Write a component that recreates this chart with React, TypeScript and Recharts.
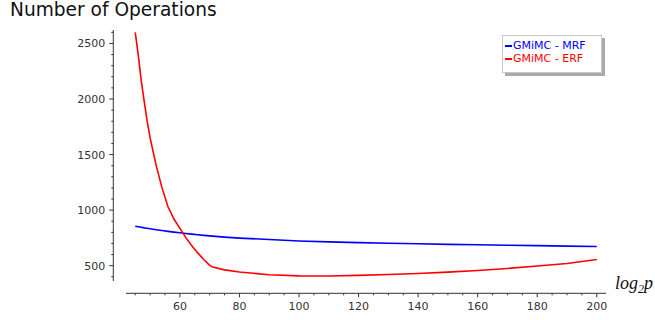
import { Legend, Line, LineChart, XAxis, YAxis } from "recharts";

const xs = [45, 46, 47, 48, 49, 50, 52, 54, 56, 58, 60, 62, 64, 66, 68, 70, 71, 75, 80, 90, 100, 110, 120, 130, 140, 150, 160, 170, 180, 190, 200];
const mrf = [855, 850, 845, 840, 836, 832, 824, 816, 809, 802, 796, 790, 784, 778, 773, 768, 766, 757, 748, 735, 722, 714, 707, 702, 697, 692, 688, 684, 680, 676, 672];
const erf = [2600, 2400, 2170, 1980, 1800, 1650, 1405, 1200, 1030, 920, 835, 752, 680, 615, 555, 503, 487, 462, 443, 418, 408, 407, 413, 420, 430, 442, 457, 475, 497, 520, 555];
const series = ["GMiMC - MRF", "GMiMC - ERF"];

const xTicks = Array.from({ length: 32 }, (_, i) => 45 + i * 5);
const yTicks = Array.from({ length: 23 }, (_, i) => 400 + i * 100);

const dados = xs.map((x, i) => ({ x, mrf: mrf[i], erf: erf[i] }));

const EIXO = "#333";
const FONTE = "DejaVu Sans";
// eixos afastados da área do gráfico, estilo sage
const DESLOC_X = 12.3;
const DESLOC_Y = 12.7;

function TickX(props: any) {
  const { x, y, payload } = props;
  const maior = payload.value % 20 === 0;
  const ay = y + DESLOC_X;
  return (
    <g>
      <line x1={x} x2={x} y1={ay} y2={ay + (maior ? 4 : 2)} stroke={EIXO} />
      {maior && (
        <text x={x} y={ay + 17} textAnchor="middle" fontSize={11} fill={EIXO} fontFamily={FONTE}>
          {payload.value}
        </text>
      )}
    </g>
  );
}

function TickY(props: any) {
  const { x, y, payload } = props;
  const maior = payload.value % 500 === 0;
  const ax = x - DESLOC_Y;
  return (
    <g>
      <line x1={ax - (maior ? 4 : 2)} x2={ax} y1={y} y2={y} stroke={EIXO} />
      {maior && (
        <text x={ax - 8} y={y + 4} textAnchor="end" fontSize={11} fill={EIXO} fontFamily={FONTE}>
          {payload.value}
        </text>
      )}
    </g>
  );
}

function RotuloX(props: any) {
  const { viewBox } = props;
  return (
    <text
      x={viewBox.x + viewBox.width + 9}
      y={viewBox.y + 8}
      fontSize={18}
      fontStyle="italic"
      fontFamily="Liberation Serif"
      fill="#111"
    >
      log
      <tspan fontSize={12} dy={4}>2</tspan>
      <tspan dy={-4}>p</tspan>
    </text>
  );
}

function Legenda({ payload }: any) {
  const itens = [...(payload ?? [])].sort((a: any, b: any) => series.indexOf(a.value) - series.indexOf(b.value));
  return (
    <div
      style={{
        boxSizing: "border-box",
        width: 100,
        height: 38,
        border: "1px solid #c8c8c8",
        background: "#fff",
        boxShadow: "3px 3px 0 #aaa",
        paddingTop: 4,
        fontFamily: FONTE,
        fontSize: 11,
      }}
    >
      {itens.map((p: any) => (
        <div key={p.value} style={{ display: "flex", alignItems: "center", height: 12.6, color: p.color }}>
          <span style={{ display: "inline-block", width: 7, height: 2, background: p.color, marginLeft: 2, marginRight: 1 }} />
          <span style={{ lineHeight: "12.6px" }}>{p.value}</span>
        </div>
      ))}
    </div>
  );
}

export default function App() {
  return (
    <div style={{ position: "absolute", left: 0, top: 0, width: 655, height: 320, background: "#fff" }}>
      <div
        style={{
          position: "absolute",
          left: 10,
          top: 0,
          fontFamily: FONTE,
          fontSize: 18.6,
          lineHeight: "20px",
          color: "#111",
          whiteSpace: "nowrap",
        }}
      >
        Number of Operations
      </div>
      <LineChart width={655} height={320} data={dados} margin={{ top: 30, right: 49, left: 66, bottom: 9 }}>
        <XAxis
          type="number"
          dataKey="x"
          domain={[41.9, 203.1]}
          ticks={xTicks}
          interval={0}
          allowDataOverflow
          height={30}
          tickSize={0}
          tickMargin={0}
          tickLine={false}
          axisLine={{ stroke: EIXO, transform: `translate(0, ${DESLOC_X})` }}
          tick={<TickX />}
          label={<RotuloX />}
        />
        <YAxis
          type="number"
          domain={[362, 2621]}
          ticks={yTicks}
          interval={0}
          allowDataOverflow
          width={60}
          tickSize={0}
          tickMargin={0}
          tickLine={false}
          axisLine={{ stroke: EIXO, transform: `translate(${-DESLOC_Y}, 0)` }}
          tick={<TickY />}
        />
        <Legend
          layout="horizontal"
          verticalAlign="middle"
          align="center"
          content={<Legenda />}
          wrapperStyle={{ left: 502, top: 35, width: 100, height: 38 }}
        />
        <Line
          dataKey="mrf"
          name={series[0]}
          type="linear"
          stroke="#0000ff"
          strokeWidth={1.6}
          dot={false}
          isAnimationActive={false}
        />
        <Line
          dataKey="erf"
          name={series[1]}
          type="linear"
          stroke="#ff0000"
          strokeWidth={1.6}
          dot={false}
          isAnimationActive={false}
        />
      </LineChart>
    </div>
  );
}
